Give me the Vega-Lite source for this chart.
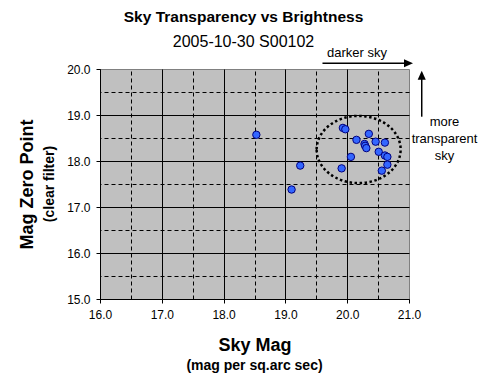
{
  "$schema": "https://vega.github.io/schema/vega-lite/v6.json",
  "width": 309,
  "height": 230,
  "autosize": {"type": "none"},
  "padding": {"left": 100, "top": 69, "right": 79, "bottom": 91},
  "background": "white",
  "config": {
    "font": "Liberation Sans",
    "view": {"fill": "#C0C0C0", "stroke": "#808080", "strokeWidth": 1}
  },
  "title": {
    "text": "Sky Transparency vs Brightness",
    "subtitle": "2005-10-30 S00102",
    "font": "Liberation Sans",
    "subtitleFont": "Liberation Sans",
    "fontSize": 15.5,
    "fontWeight": "bold",
    "subtitleFontSize": 16,
    "color": "black",
    "subtitleColor": "black",
    "anchor": "middle",
    "dx": -11,
    "offset": -3,
    "subtitlePadding": 8
  },
  "datasets": {
    "points": [
      {"sky": 18.53, "zp": 18.57},
      {"sky": 19.24, "zp": 17.90},
      {"sky": 19.10, "zp": 17.38},
      {"sky": 19.93, "zp": 18.72},
      {"sky": 19.97, "zp": 18.69},
      {"sky": 20.35, "zp": 18.59},
      {"sky": 20.15, "zp": 18.46},
      {"sky": 20.46, "zp": 18.42},
      {"sky": 20.61, "zp": 18.40},
      {"sky": 20.28, "zp": 18.37},
      {"sky": 20.29, "zp": 18.33},
      {"sky": 20.31, "zp": 18.28},
      {"sky": 20.51, "zp": 18.20},
      {"sky": 20.61, "zp": 18.12},
      {"sky": 20.65, "zp": 18.09},
      {"sky": 20.06, "zp": 18.09},
      {"sky": 20.65, "zp": 17.92},
      {"sky": 19.91, "zp": 17.84},
      {"sky": 20.56, "zp": 17.79}
    ]
  },
  "resolve": {"axis": {"x": "independent", "y": "independent"}},
  "layer": [
    {
      "data": {"values": [{}]},
      "mark": {"type": "point", "shape": "M -1 0 A 1 0.8 0 1 1 1 0 A 1 0.8 0 1 1 -1 0 Z", "size": 7056, "filled": false, "stroke": "black", "strokeWidth": 2.5, "strokeDash": [2.5, 2.5], "opacity": 1},
      "encoding": {
        "x": {
          "datum": 20.185, "type": "quantitative",
          "scale": {"domain": [16, 21], "nice": false, "zero": false},
          "axis": {
            "orient": "top", "title": null, "domain": false, "ticks": false, "labels": false,
            "values": [16.5, 17.5, 18.5, 19.5, 20.5],
            "grid": true, "gridColor": "black", "gridDash": [4, 3], "gridWidth": 1
          }
        },
        "y": {
          "datum": 18.25, "type": "quantitative",
          "scale": {"domain": [15, 20], "nice": false, "zero": false},
          "axis": {
            "orient": "right", "title": null, "domain": false, "ticks": false, "labels": false,
            "values": [15.5, 16.5, 17.5, 18.5, 19.5],
            "grid": true, "gridColor": "black", "gridDash": [4, 3], "gridWidth": 1
          }
        }
      }
    },
    {
      "data": {"name": "points"},
      "mark": {"type": "point", "shape": "circle", "filled": true, "size": 55, "fill": "#3366FF", "stroke": "#000080", "strokeWidth": 1, "opacity": 1},
      "encoding": {
        "x": {
          "field": "sky", "type": "quantitative",
          "scale": {"domain": [16, 21], "nice": false, "zero": false},
          "axis": {
            "title": "Sky Mag",
            "titleFontSize": 18, "titleFontWeight": "bold", "titleColor": "black", "titlePadding": 16, "titleFont": "Liberation Sans",
            "values": [16, 17, 18, 19, 20, 21],
            "format": ".1f",
            "labelFontSize": 12, "labelColor": "black", "labelFlush": false, "labelOverlap": false, "labelPadding": 6,
            "tickColor": "black", "tickSize": 4,
            "domainColor": "black", "domainWidth": 1,
            "grid": true, "gridColor": "black",
            "gridOpacity": {"condition": {"test": "datum.value >= 21", "value": 0}, "value": 1}
          }
        },
        "y": {
          "field": "zp", "type": "quantitative",
          "scale": {"domain": [15, 20], "nice": false, "zero": false},
          "axis": {
            "title": "Mag Zero Point",
            "titleFontSize": 18, "titleFontWeight": "bold", "titleColor": "black", "titlePadding": 30, "titleFont": "Liberation Sans",
            "values": [15, 16, 17, 18, 19, 20],
            "format": ".1f",
            "labelFontSize": 12, "labelColor": "black", "labelFlush": false, "labelOverlap": false, "labelPadding": 6,
            "tickColor": "black", "tickSize": 4,
            "domainColor": "black", "domainWidth": 1,
            "grid": true, "gridColor": "black",
            "gridOpacity": {"condition": {"test": "datum.value >= 20", "value": 0}, "value": 1}
          }
        }
      }
    },
    {
      "data": {"values": [{}]},
      "mark": {"type": "rule", "strokeWidth": 1.5, "color": "black"},
      "encoding": {
        "x": {"datum": 19.6, "type": "quantitative", "axis": null},
        "x2": {"datum": 20.99},
        "y": {"datum": 20.124, "type": "quantitative", "axis": null}
      }
    },
    {
      "data": {"values": [{}]},
      "mark": {"type": "point", "shape": "M 1 0 L -1 -0.9 L -1 0.9 Z", "size": 81, "filled": true, "fill": "black", "strokeWidth": 0, "opacity": 1},
      "encoding": {
        "x": {"datum": 20.992, "type": "quantitative", "axis": null},
        "y": {"datum": 20.124, "type": "quantitative", "axis": null}
      }
    },
    {
      "data": {"values": [{}]},
      "mark": {"type": "rule", "strokeWidth": 1.5, "color": "black"},
      "encoding": {
        "x": {"datum": 21.206, "type": "quantitative", "axis": null},
        "y": {"datum": 18.963, "type": "quantitative", "axis": null},
        "y2": {"datum": 19.87}
      }
    },
    {
      "data": {"values": [{}]},
      "mark": {"type": "point", "shape": "M 0 -1 L -0.9 1 L 0.9 1 Z", "size": 81, "filled": true, "fill": "black", "strokeWidth": 0, "opacity": 1},
      "encoding": {
        "x": {"datum": 21.206, "type": "quantitative", "axis": null},
        "y": {"datum": 19.865, "type": "quantitative", "axis": null}
      }
    },
    {
      "data": {"values": [{}]},
      "mark": {"type": "text", "text": "darker sky", "fontSize": 13, "align": "center", "baseline": "alphabetic", "color": "black"},
      "encoding": {
        "x": {"datum": 20.157, "type": "quantitative", "axis": null},
        "y": {"datum": 20.267, "type": "quantitative", "axis": null}
      }
    },
    {
      "data": {"values": [{}]},
      "mark": {"type": "text", "text": ["more", "transparent", "sky"], "lineHeight": 17, "fontSize": 13, "align": "center", "baseline": "alphabetic", "color": "black"},
      "encoding": {
        "x": {"datum": 21.575, "type": "quantitative", "axis": null},
        "y": {"datum": 18.761, "type": "quantitative", "axis": null}
      }
    },
    {
      "data": {"values": [{}]},
      "mark": {"type": "text", "text": "(mag per sq.arc sec)", "fontSize": 14, "fontWeight": "bold", "align": "center", "baseline": "middle", "color": "black"},
      "encoding": {
        "x": {"datum": 18.5, "type": "quantitative", "axis": null},
        "y": {"datum": 13.543, "type": "quantitative", "axis": null}
      }
    },
    {
      "data": {"values": [{}]},
      "mark": {"type": "text", "text": "(clear filter)", "angle": 270, "fontSize": 14, "fontWeight": "bold", "align": "center", "baseline": "middle", "color": "black"},
      "encoding": {
        "x": {"datum": 15.19, "type": "quantitative", "axis": null},
        "y": {"datum": 17.5, "type": "quantitative", "axis": null}
      }
    }
  ]
}
